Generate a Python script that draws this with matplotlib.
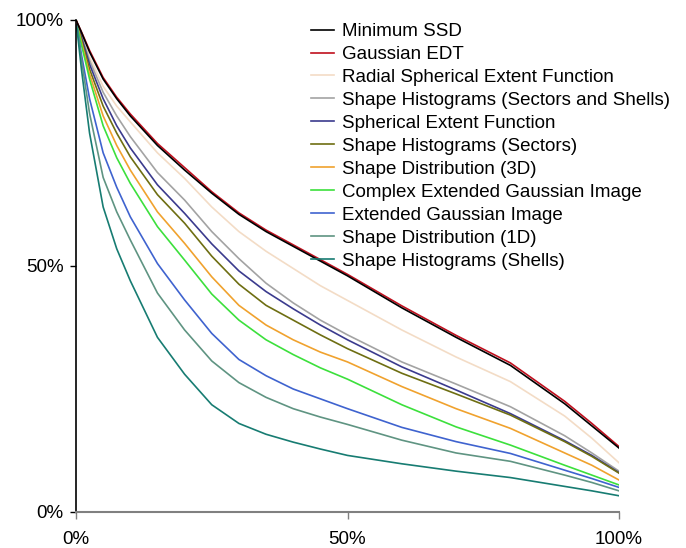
import numpy as np
import matplotlib.pyplot as plt
import matplotlib.ticker as ticker

plt.rcParams['font.family'] = ['Liberation Sans', 'DejaVu Sans']

# Recall (%) sampled along the x axis
recall = [0, 1, 2.5, 5, 7.5, 10, 15, 20, 25, 30, 35, 40, 45, 50, 60, 70, 80, 90, 95, 100]

min_ssd   = [100, 97.5, 93.5, 88.0, 84.0, 80.5, 74.5, 69.5, 64.8, 60.5, 57.0, 54.0, 51.0, 48.0, 41.5, 35.5, 29.8, 22.0, 17.5, 13.0]
gauss_edt = [100, 97.6, 93.8, 88.3, 84.3, 80.9, 74.9, 70.0, 65.1, 60.8, 57.3, 54.3, 51.3, 48.3, 41.9, 35.9, 30.3, 22.5, 18.0, 13.3]
radial_sef = [100, 97.0, 92.5, 86.5, 82.5, 79.3, 73.0, 67.8, 62.0, 57.0, 53.0, 49.5, 46.0, 43.0, 37.0, 31.5, 26.5, 19.5, 15.0, 10.0]
sh_sect_shells = [100, 96.8, 91.8, 85.3, 80.5, 76.3, 69.0, 63.4, 57.0, 51.5, 46.5, 42.5, 39.0, 36.0, 30.5, 26.0, 21.4, 15.5, 12.0, 8.3]
sef       = [100, 96.5, 91.0, 84.0, 78.5, 74.0, 66.5, 60.7, 54.5, 49.0, 44.8, 41.3, 38.0, 35.0, 29.5, 24.8, 20.0, 14.5, 11.5, 8.0]
sh_sect   = [100, 96.0, 90.0, 82.5, 77.0, 72.2, 64.5, 58.7, 52.0, 46.3, 42.0, 39.0, 36.0, 33.2, 28.2, 24.0, 19.7, 14.3, 11.3, 7.9]
sd_3d     = [100, 95.5, 89.0, 80.5, 74.5, 69.5, 61.0, 54.6, 47.8, 42.0, 38.0, 35.0, 32.5, 30.5, 25.5, 21.0, 17.0, 12.0, 9.5, 6.5]
cegi      = [100, 95.0, 88.0, 78.5, 72.0, 66.8, 58.0, 51.2, 44.3, 39.0, 35.0, 32.0, 29.3, 27.0, 21.8, 17.3, 13.6, 9.5, 7.5, 5.5]
egi       = [100, 93.0, 84.0, 73.0, 66.0, 60.0, 50.5, 43.1, 36.3, 31.0, 27.7, 25.0, 23.0, 21.0, 17.2, 14.3, 11.9, 8.5, 6.8, 5.0]
sd_1d     = [100, 92.0, 81.0, 68.0, 61.0, 55.3, 44.5, 37.0, 30.7, 26.3, 23.3, 21.0, 19.3, 17.8, 14.6, 12.0, 10.3, 7.5, 6.0, 4.3]
sh_shells = [100, 90.0, 77.0, 62.0, 53.5, 47.0, 35.5, 28.0, 21.8, 18.0, 15.8, 14.2, 12.8, 11.5, 9.8, 8.3, 7.0, 5.2, 4.3, 3.3]

labels = ['Minimum SSD', 'Gaussian EDT', 'Radial Spherical Extent Function',
          'Shape Histograms (Sectors and Shells)', 'Spherical Extent Function',
          'Shape Histograms (Sectors)', 'Shape Distribution (3D)',
          'Complex Extended Gaussian Image', 'Extended Gaussian Image',
          'Shape Distribution (1D)', 'Shape Histograms (Shells)']
series = [min_ssd, gauss_edt, radial_sef, sh_sect_shells, sef, sh_sect,
          sd_3d, cegi, egi, sd_1d, sh_shells]
colors = ['#000000', '#C0101E', '#F3DCC6', '#A3A3A3', '#3B3B8E', '#6E6E12',
          '#F0A22E', '#3CE03C', '#3F63CF', '#5F9482', '#177C72']

fig = plt.figure(figsize=(6.86, 5.48), dpi=100)
ax = fig.add_axes([76/686, 1 - 512/548, (619 - 76)/686, (512 - 20)/548])

for i, (vals, lab, col) in enumerate(zip(series, labels, colors)):
    z = 3 if i == 1 else (4 if i == 0 else 2)   # keep black on top of the red one
    ax.plot(recall, vals, color=col, lw=1.2, label=lab, zorder=z)

ax.set_xlim(0, 100)
ax.set_ylim(0, 100)
ax.xaxis.set_major_locator(ticker.FixedLocator([0, 50, 100]))
ax.yaxis.set_major_locator(ticker.FixedLocator([0, 50, 100]))
ax.xaxis.set_major_formatter(ticker.FuncFormatter(lambda v, p: f'{int(v)}%'))
ax.yaxis.set_major_formatter(ticker.FuncFormatter(lambda v, p: f'{int(v)}%'))

for s in ['top', 'right']:
    ax.spines[s].set_visible(False)
ax.spines['left'].set_color('black')
ax.spines['left'].set_linewidth(1.2)
ax.spines['bottom'].set_color('#808080')
ax.spines['bottom'].set_linewidth(1.5)
ax.tick_params(axis='x', length=5, width=1, color='#808080', pad=8.5, labelsize=13.5)
ax.tick_params(axis='y', length=4, width=1, color='black', pad=5, labelsize=13.5)

handles, labs = ax.get_legend_handles_labels()
fig.legend(handles, labs, loc='upper left', bbox_to_anchor=(311/686, 1 - 23/548),
           frameon=False, fontsize=13.5, handlelength=1.23, handletextpad=0.43,
           labelspacing=0.31, borderpad=0, borderaxespad=0)

fig.savefig('out.png', dpi=100)
